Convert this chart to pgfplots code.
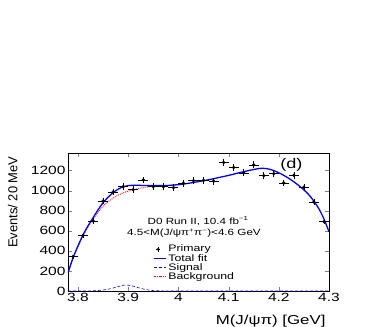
\documentclass[border=0pt]{standalone}
\usepackage{fontspec}
\setmainfont[FakeStretch=1.3]{Liberation Sans}
\newfontfamily\plainfont{Liberation Sans}
\usepackage{pgfplots}
\pgfplotsset{compat=1.18}

% events per 20 MeV bin: x, count, error
\pgfplotstableread{
x     y     ey
3.79  342   19
3.81  552   24
3.83  698   26
3.85  897   30
3.87  987   31
3.89  1040  32
3.91  1010  32
3.93  1107  33
3.95  1040  32
3.97  1040  32
3.99  1030  32
4.01  1073  33
4.03  1100  33
4.05  1103  33
4.07  1094  33
4.09  1280  36
4.11  1230  35
4.13  1177  34
4.15  1256  35
4.17  1150  34
4.19  1170  34
4.21  1077  33
4.23  1153  34
4.25  1034  32
4.27  887   30
4.29  691   26
}\primary

\begin{document}
\begin{tikzpicture}
\useasboundingbox (-68bp,-36bp) rectangle (302bp,291bp);
\begin{axis}[
  at={(0,0)}, anchor=south west,
  scale only axis,
  width=261bp, height=138bp,
  xmin=3.78, xmax=4.3,
  ymin=0, ymax=1375,
  xtick={3.8,3.9,4,4.1,4.2,4.3},
  xticklabels={3.8,3.9,4,4.1,4.2,4.3},
  ytick={0,200,400,600,800,1000,1200},
  yticklabels={0,200,400,600,800,1000,1200},
  tick align=inside,
  major tick length=4bp,
  minor tick num=0,
  axis line style={black, line width=0.5pt},
  /pgf/number format/assume math mode=true,
  ticklabel style={font=\fontsize{12}{12}\selectfont},
  xticklabel style={yshift=1bp},
  yticklabel style={xshift=1bp},
  xlabel={M(J/ψπ) [GeV]},
  xlabel style={at={(rel axis cs:1,-0.217)}, anchor=east, font=\fontsize{13}{13}\selectfont},
  ylabel={Events/ 20 MeV},
  ylabel style={at={(rel axis cs:-0.212,1)}, anchor=east, font=\plainfont\fontsize{13}{13}\selectfont},
  legend style={
    at={(rel axis cs:0.325,0.345)}, anchor=north west,
    draw=none, fill=none, inner sep=0pt,
    font=\fontsize{9.5}{9.5}\selectfont,
    row sep=-2.2pt,
    nodes={inner sep=1.5pt},
  },
  legend cell align=left,
  legend image post style={xscale=0.75},
  clip=true,
]
% background (drawn first, total fit covers it where they coincide)
\addplot[red, densely dotted, line width=0.9pt, smooth, forget plot] coordinates {
  (3.78,180) (3.79,330) (3.80,445) (3.81,548) (3.82,638) (3.83,715) (3.84,785)
  (3.85,845) (3.86,890) (3.87,925) (3.88,955) (3.89,978) (3.90,995)
  (3.91,1008) (3.92,1020) (3.93,1030) (3.94,1038) (3.95,1044) (3.96,1048)
  (3.98,1051) (4.00,1059) (4.02,1073)
};
% signal
\addplot[blue, densely dashed, line width=0.6pt, smooth, forget plot] coordinates {
  (3.78,0) (3.82,1) (3.83,2) (3.84,5) (3.85,10) (3.86,18) (3.87,30) (3.88,45)
  (3.89,57) (3.895,60) (3.90,58) (3.91,48) (3.92,33) (3.93,20) (3.94,10)
  (3.95,4) (3.97,1) (4.00,0) (4.30,0)
};
% total fit
\addplot[blue, line width=1.3pt, smooth, forget plot] coordinates {
  (3.78,180) (3.79,330) (3.80,450) (3.81,560) (3.82,650) (3.83,730) (3.84,810)
  (3.85,880) (3.86,935) (3.87,980) (3.88,1015) (3.89,1038) (3.90,1050)
  (3.91,1053) (3.92,1053) (3.94,1050) (3.96,1050) (3.98,1052) (4.00,1060)
  (4.02,1073) (4.04,1090) (4.06,1108) (4.08,1130) (4.10,1152) (4.12,1177)
  (4.14,1200) (4.16,1220) (4.17,1222) (4.18,1215) (4.19,1200) (4.20,1178)
  (4.21,1152) (4.22,1122) (4.23,1088) (4.24,1050) (4.25,1008) (4.26,958)
  (4.27,895) (4.28,818) (4.29,718) (4.30,590)
};
% data
\addplot[black, only marks, mark=*, mark size=1.5pt, forget plot,
  error bars/.cd, x dir=both, x fixed=0.01, y dir=both, y explicit,
  error mark=none, error bar style={black, line width=0.7pt}]
  table[x=x, y=y, y error=ey] {\primary};

% legend entries
\addlegendimage{legend image code/.code={
  \draw[black, line width=0.6pt] (0.22cm,-0.09cm)--(0.22cm,0.09cm) (0.12cm,0)--(0.32cm,0);
  \fill[black] (0.22cm,0) circle (1.4pt);}}
\addlegendentry{Primary}
\addlegendimage{blue, line width=1.1pt}
\addlegendentry{Total fit}
\addlegendimage{blue, densely dashed, line width=0.7pt}
\addlegendentry{Signal}
\addlegendimage{red, densely dotted, line width=0.9pt}
\addlegendentry{Background}

\node[font=\fontsize{9}{9}\selectfont] at (axis cs:4.039,698) {D0 Run II, 10.4 fb\textsuperscript{−1}};
\node[font=\fontsize{9}{9}\selectfont] at (axis cs:4.031,575) {4.5<M(J/ψπ\textsuperscript{+}π\textsuperscript{−})<4.6 GeV};
\node[font=\fontsize{14}{14}\selectfont] at (axis cs:4.225,1255) {(d)};
\end{axis}
\end{tikzpicture}
\end{document}
